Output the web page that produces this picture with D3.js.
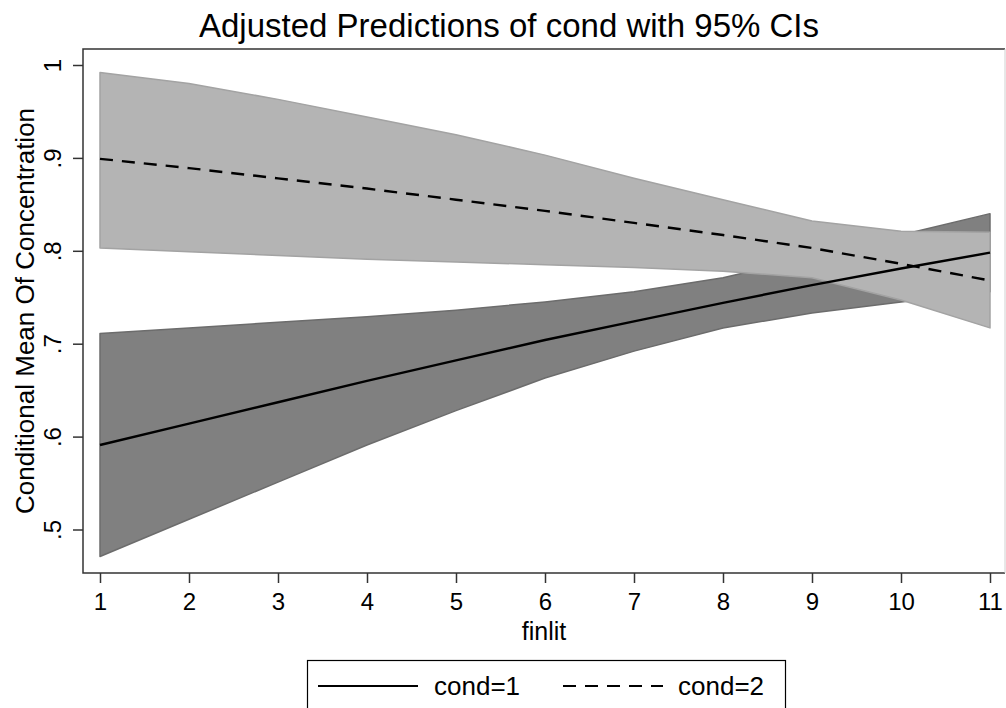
<!DOCTYPE html>
<html lang="en">

<head>
	<meta charset="utf-8">
	<title>adjusted_predictions</title>
	<style>
		body { margin: 0; background: #fff; }
		svg { display: block; font-family: "Liberation Sans", Arial, sans-serif; }
	</style>
</head>

<body>
	<script src="https://cdn.jsdelivr.net/npm/d3@7"></script>
	<script>

		const finlit = [1, 2, 3, 4, 5, 6, 7, 8, 9, 10, 11];

		// cond=1
		const mean1 = [0.591, 0.614, 0.637, 0.660, 0.682, 0.704, 0.724, 0.744, 0.763, 0.781, 0.798];
		const upper1 = [0.711, 0.717, 0.723, 0.729, 0.736, 0.745, 0.756, 0.771, 0.793, 0.817, 0.840];
		const lower1 = [0.471, 0.511, 0.551, 0.591, 0.628, 0.663, 0.692, 0.717, 0.733, 0.745, 0.756];

		// cond=2
		const mean2 = [0.899, 0.889, 0.878, 0.867, 0.855, 0.843, 0.830, 0.817, 0.803, 0.786, 0.768];
		const upper2 = [0.992, 0.980, 0.963, 0.944, 0.925, 0.903, 0.878, 0.855, 0.832, 0.821, 0.820];
		const lower2 = [0.803, 0.799, 0.795, 0.791, 0.788, 0.785, 0.782, 0.778, 0.771, 0.747, 0.717];

		const xTicks = [1, 2, 3, 4, 5, 6, 7, 8, 9, 10, 11];
		const yTicks = [0.5, 0.6, 0.7, 0.8, 0.9, 1];

		const title = "Adjusted Predictions of cond with 95% CIs";
		const xTitle = "finlit";
		const yTitle = "Conditional Mean Of Concentration";
		const legendLabels = ["cond=1", "cond=2"];

		initD3();

		function initD3() {
			const width = 1006;
			const height = 708;
			const plot = { left: 83, top: 49, right: 1005, bottom: 573 };

			const x = d3.scaleLinear().domain([1, 11]).range([100, 990]);
			const y = d3.scaleLinear().domain([0.5, 1]).range([529.5, 65]);

			const svg = d3.select(document.body)
				.append("svg")
				.attr("width", width)
				.attr("height", height);

			const rows = (mean, lower, upper) => finlit.map((f, i) => ({ f, m: mean[i], lo: lower[i], hi: upper[i] }));
			const series = [
				{ data: rows(mean1, lower1, upper1), fill: "#808080", edge: "#6c6c6c", dash: null },
				{ data: rows(mean2, lower2, upper2), fill: "#b4b4b4", edge: "#a3a3a3", dash: "13,9" }
			];

			const area = d3.area()
				.x((d) => x(d.f))
				.y0((d) => y(d.lo))
				.y1((d) => y(d.hi));

			const line = d3.line()
				.x((d) => x(d.f))
				.y((d) => y(d.m));

			// CI bands
			svg.append("g")
				.selectAll("path")
				.data(series)
				.join("path")
				.attr("d", (s) => area(s.data) + "Z")
				.attr("fill", (s) => s.fill)
				.attr("stroke", (s) => s.edge)
				.attr("stroke-width", 1.5)
				.attr("stroke-linejoin", "round");

			// prediction lines
			svg.append("g")
				.selectAll("path")
				.data(series)
				.join("path")
				.attr("d", (s) => line(s.data))
				.attr("fill", "none")
				.attr("stroke", "#000")
				.attr("stroke-width", 2.4)
				.attr("stroke-dasharray", (s) => s.dash);

			// plot region outline
			svg.append("path")
				.attr("d", `M${plot.right},${plot.top}H${plot.left}V${plot.bottom}H${plot.right}`)
				.attr("fill", "none")
				.attr("stroke", "#333")
				.attr("stroke-width", 1.5);
			svg.append("line")
				.attr("x1", plot.right).attr("x2", plot.right)
				.attr("y1", plot.top).attr("y2", plot.bottom)
				.attr("stroke", "#d0d0d0");

			// x axis
			const xAxis = svg.append("g")
				.attr("transform", `translate(0,${plot.bottom})`)
				.call(d3.axisBottom(x).tickValues(xTicks).tickSize(10).tickPadding(10).tickFormat(d3.format("d")));
			xAxis.select(".domain").remove();
			xAxis.selectAll("line").attr("stroke", "#333").attr("stroke-width", 1.5);
			xAxis.selectAll("text")
				.attr("fill", "#000")
				.attr("font-size", 24)
				.attr("font-family", null);

			// y axis, labels rotated
			const fmt = (v) => v === 1 ? "1" : d3.format(".1f")(v).replace(/^0/, "");
			const yAxis = svg.append("g")
				.attr("transform", `translate(${plot.left},0)`)
				.call(d3.axisLeft(y).tickValues(yTicks).tickSize(10).tickFormat(fmt));
			yAxis.select(".domain").remove();
			yAxis.selectAll("line").attr("stroke", "#333").attr("stroke-width", 1.5);
			yAxis.selectAll("text")
				.attr("fill", "#000")
				.attr("font-size", 24)
				.attr("font-family", null)
				.attr("x", null)
				.attr("dy", null)
				.attr("text-anchor", "middle")
				.attr("transform", "translate(-22,0) rotate(-90)");

			// titles
			svg.append("text")
				.attr("x", width / 2 + 6)
				.attr("y", 37)
				.attr("text-anchor", "middle")
				.attr("font-size", 33)
				.text(title);

			svg.append("text")
				.attr("x", (plot.left + plot.right) / 2)
				.attr("y", 640)
				.attr("text-anchor", "middle")
				.attr("font-size", 25)
				.text(xTitle);

			svg.append("text")
				.attr("transform", `translate(34,${(plot.top + plot.bottom) / 2}) rotate(-90)`)
				.attr("text-anchor", "middle")
				.attr("font-size", 26)
				.text(yTitle);

			// legend
			const legend = svg.append("g");
			legend.append("rect")
				.attr("x", 307.5)
				.attr("y", 660.5)
				.attr("width", 478)
				.attr("height", 70)
				.attr("fill", "#fff")
				.attr("stroke", "#000")
				.attr("stroke-width", 1.2);

			const items = [
				{ x1: 318, x2: 418, tx: 434, dash: null, label: legendLabels[0] },
				{ x1: 563, x2: 663, tx: 678, dash: "13,9", label: legendLabels[1] }
			];
			const item = legend.selectAll("g.item")
				.data(items)
				.join("g")
				.attr("class", "item");
			item.append("line")
				.attr("x1", (d) => d.x1)
				.attr("x2", (d) => d.x2)
				.attr("y1", 686)
				.attr("y2", 686)
				.attr("stroke", "#000")
				.attr("stroke-width", 2)
				.attr("stroke-dasharray", (d) => d.dash);
			item.append("text")
				.attr("x", (d) => d.tx)
				.attr("y", 695)
				.attr("font-size", 26)
				.text((d) => d.label);
		}
	</script>
</body>

</html>
